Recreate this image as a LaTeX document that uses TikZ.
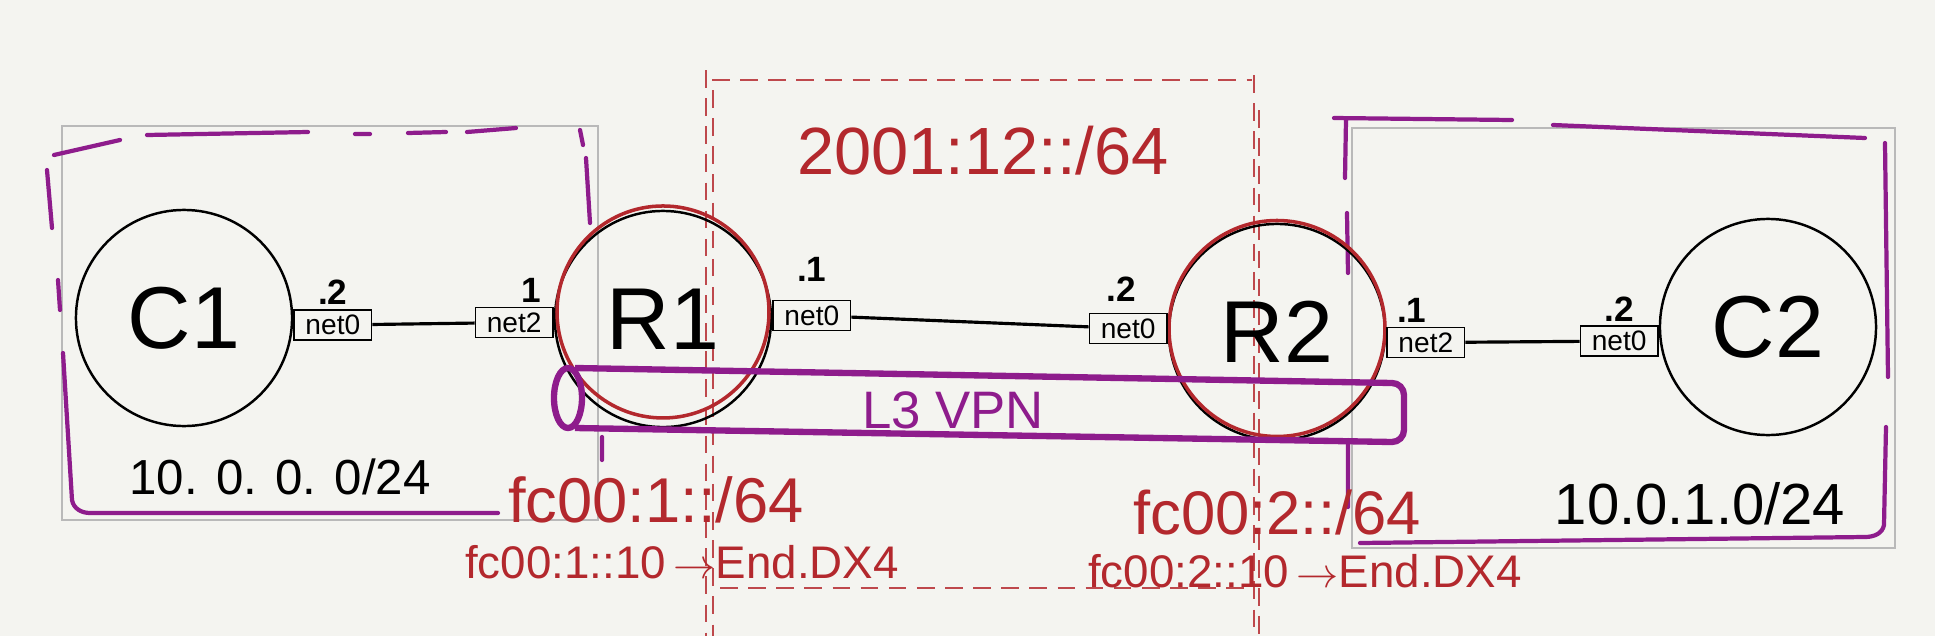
\documentclass[tikz,border=0pt]{standalone}
\usepackage{fontspec}
\setmainfont{Liberation Sans}
\usetikzlibrary{positioning}
\definecolor{paper}{HTML}{F4F4F0}
\definecolor{vpnpurple}{HTML}{8E1C8C}
\definecolor{netred}{HTML}{B3282D}

\begin{document}
\begin{tikzpicture}[
        x=0.01cm, y=-0.01cm,
        host/.style={circle, draw, line width=0.7pt, minimum size=2.16cm, inner sep=0pt, font=\fontsize{25}{28}\selectfont},
        iface/.style={rectangle, draw, line width=0.5pt, minimum width=22pt, minimum height=8.5pt, inner sep=0.5pt, font=\fontsize{8}{9}\selectfont},
        addr/.style={font=\fontsize{10}{11}\selectfont\bfseries, inner sep=1pt},
        link/.style={line width=0.9pt},
        ring/.style={draw=netred, line width=1pt},
        subnet/.style={draw=vpnpurple, line width=1.2pt, line cap=round},
        sketch/.style={draw=gray!55, line width=0.35pt},
        segment/.style={draw=netred!85, line width=0.45pt, dash pattern=on 5pt off 3pt},
        vpn/.style={draw=vpnpurple, line width=1.8pt},
        redtext/.style={text=netred}
    ]
    \path[use as bounding box, fill=paper] (0,0) rectangle (1935,636);

    \draw[sketch] (62,126) rectangle (598,520);
    \draw[sketch] (1352,128) rectangle (1895,548);

    % left subnet, drawn in pieces
    \draw[subnet] (54,155) -- (120,140)  (147,135) -- (308,132)  (355,134) -- (370,134)
        (408,133) -- (446,132)  (467,132) -- (516,128)
        (580,130) -- (583,145)  (586,158) -- (590,223)  (602,437) -- (602,460)
        (47,170) -- (52,228)  (58,280) -- (60,310)  (63,353) -- (72,500)
        to[out=-80, in=180] (90,513) -- (498,513);
    % right subnet
    \draw[subnet] (1334,118) -- (1512,120)  (1553,125) -- (1865,138)
        (1346,120) -- (1345,178)  (1347,213) -- (1348,273)  (1348,440) -- (1348,507)
        (1885,143) -- (1888,377)  (1886,427) -- (1884,525)
        to[out=-100, in=0] (1865,537) -- (1360,543);

    \draw[segment] (712,80) -- (1252,80);
    \draw[segment] (720,588) -- (1250,588);
    \draw[segment] (706,70) -- (706,636);
    \draw[segment] (713,90) -- (713,636);
    \draw[segment] (1254,75) -- (1254,636);
    \draw[segment] (1259,110) -- (1259,636);

    \node[host] (c1) at (184,318) {C1};
    \node[host] (r1) at (663,319) {R1};
    \node[host] (r2) at (1277,332) {R2};
    \node[host] (c2) at (1768,327) {C2};
    \draw[ring] ([yshift=2pt]r1.center) circle [radius=106];
    \draw[ring] ([yshift=1pt]r2.center) circle [radius=108];

    \node[iface, right=0pt of c1, yshift=-2pt, label={[addr]above:.2}] (c1net0) {net0};
    \node[iface, left=0pt of r1, yshift=-1pt, label={[addr, xshift=5pt]above:1}] (r1net2) {net2};
    \node[iface, right=0pt of r1, yshift=1pt, label={[addr, label distance=4pt]above:.1}] (r1net0) {net0};
    \node[iface, left=0pt of r2, yshift=1pt, label={[addr, label distance=2pt, xshift=-2pt]above:.2}] (r2net0) {net0};
    \node[iface, right=0pt of r2, yshift=-3pt, label={[addr, xshift=-4pt]above:.1}] (r2net2) {net2};
    \node[iface, left=0pt of c2, yshift=-4pt, label={[addr]above:.2}] (c2net0) {net0};

    \draw[link] (c1net0) -- (r1net2);
    \draw[link] (r1net0) -- (r2net0);
    \draw[link] (r2net2) -- (c2net0);

    \draw[vpn] (575,368) -- (1392,383) to[out=0, in=90] (1404,395) -- (1404,430)
        to[out=-90, in=0] (1392,442) -- (575,428);
    \draw[vpn] (568,398) ellipse [x radius=14, y radius=30];
    \node[text=vpnpurple, font=\fontsize{15}{17}\selectfont] (vpnlabel) at (953,410) {L3 VPN};

    \node[redtext, font=\fontsize{19}{22}\selectfont] (core) at (983,151) {2001:12::/64};
    \node[font=\fontsize{14}{16}\selectfont] (c1net) at (280,477) {10. 0. 0. 0/24};
    \node[font=\fontsize{16.5}{19}\selectfont] (c2net) at (1700,504) {10.0.1.0/24};
    \node[redtext, font=\fontsize{18}{20}\selectfont] (r1sid) at (656,500) {fc00:1::/64};
    \node[redtext, font=\fontsize{13}{15}\selectfont] (r1dx4) at (682,562) {fc00:1::10\,$\rightarrow$End.DX4};
    \node[redtext, font=\fontsize{17.5}{20}\selectfont] (r2sid) at (1277,512) {fc00:2::/64};
    \node[redtext, font=\fontsize{13}{15}\selectfont] (r2dx4) at (1305,571) {fc00:2::10\,$\rightarrow$End.DX4};
\end{tikzpicture}
\end{document}
